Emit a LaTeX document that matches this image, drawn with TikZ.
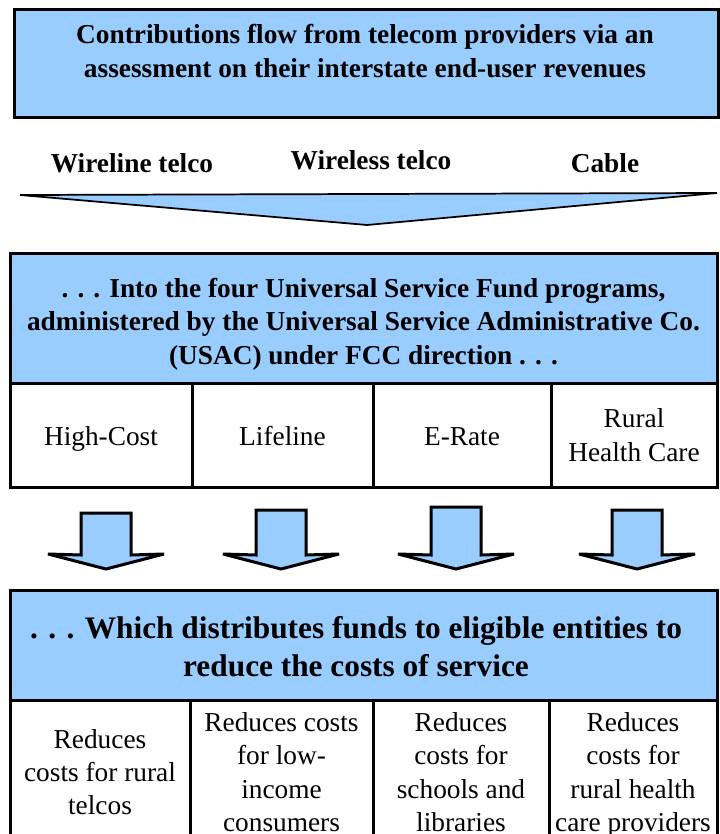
\documentclass[tikz,border=0pt]{standalone}
\usepackage{fontspec}
\setmainfont{Liberation Serif}
\definecolor{fundblue}{HTML}{99CCFF}
\newcommand{\usffont}{\fontsize{20.5}{25}\selectfont}
\newcommand{\usfbig}{\fontsize{23.5}{28.5}\selectfont}
\begin{document}
\begin{tikzpicture}[x=0.75pt,y=-0.75pt,
    panel/.style={draw,line width=2.25pt,fill=fundblue,inner sep=0pt},
    heading/.style={font=\usffont\bfseries,align=center,inner sep=0pt},
    cell/.style={draw,line width=2.25pt,fill=white,inner sep=0pt,
      font=\usffont,align=center,minimum height=#1},
    cell/.default=78pt,
    oneline/.style={text height=19pt,text depth=3pt},
    blockarrow/.style={draw,line width=2.25pt,fill=fundblue,line join=miter,
      miter limit=3}]
  \useasboundingbox (0,0) rectangle (719,834);

  % contributions
  \node[panel,minimum width=528pt,minimum height=81pt] (top) at (366,64) {};
  \node[heading] (toptext) at (365,51)
    {Contributions flow from telecom providers via an\\
     assessment on their interstate end-user revenues};

  \node[heading] (wireline) at (132,163) {Wireline telco};
  \node[heading] (wireless) at (371,160) {Wireless telco};
  \node[heading] (cable) at (605,163) {Cable};

  \coordinate (funnelL) at (20,195);
  \coordinate (funnelR) at (717,193);
  \coordinate (funnelT) at (367,225);
  \draw[fill=fundblue,line width=1.3pt] (funnelL) -- (funnelR) -- (funnelT) -- cycle;

  % the four programs
  \node[panel,minimum width=530.25pt,minimum height=97.5pt] (usf) at (363.5,318) {};
  \node[heading] (usftext) at (363.5,324)
    {. . . Into the four Universal Service Fund programs,\\
     administered by the Universal Service Administrative Co.\\
     (USAC) under FCC direction . . .};

  \node[cell,oneline,minimum width=136.5pt] (highcost) at (101,435) {High-Cost};
  \node[cell,oneline,minimum width=135.75pt] (lifeline) at (282.5,435) {Lifeline};
  \node[cell,oneline,minimum width=133.5pt] (erate) at (462,435) {E-Rate};
  \node[cell,minimum width=124.5pt] (rhc) at (634,435) {Rural\\Health Care};

  % block arrows
  \foreach \cx/\ty in {106/513, 281/510, 456/507, 637/510}
    \draw[blockarrow] (\cx-25,\ty) -- (\cx+25,\ty) -- (\cx+25,555) -- (\cx+58,554)
      -- (\cx,569) -- (\cx-58,554) -- (\cx-25,555) -- cycle;

  % distribution
  \node[panel,minimum width=530.25pt,minimum height=82.5pt] (dist) at (363.5,645) {};
  \node[heading,font=\usfbig\bfseries] (disttext) at (356,647)
    {. . . Which distributes funds to eligible entities to\\
     reduce the costs of service};

  \node[cell=108pt,minimum width=135pt] (ruraltelco) at (100,772)
    {Reduces\\costs for rural\\telcos};
  \node[cell=108pt,minimum width=137.25pt] (lowincome) at (281.5,772)
    {Reduces costs\\for low-\\income\\consumers};
  \node[cell=108pt,minimum width=132pt] (schools) at (461,772)
    {Reduces\\costs for\\schools and\\libraries};
  \node[cell=108pt,text depth=0pt,minimum width=126pt] (health) at (633,772)
    {Reduces\\costs for\\rural health\\care providers};
\end{tikzpicture}
\end{document}
